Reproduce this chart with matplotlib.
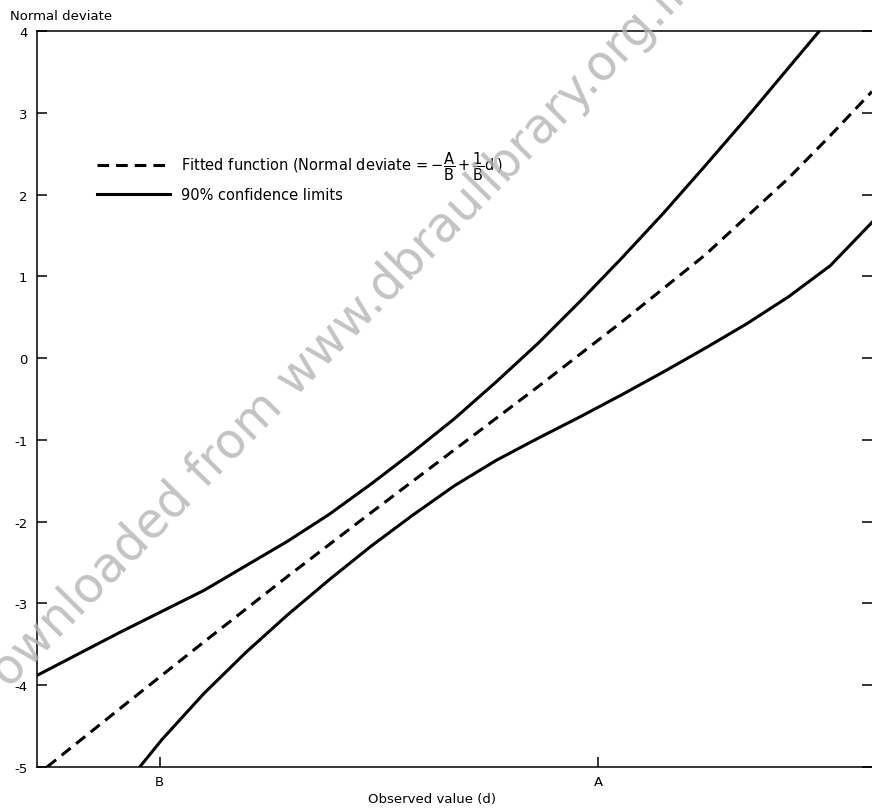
import matplotlib
matplotlib.use("Agg")
import matplotlib.pyplot as plt
import numpy as np

plt.rcParams['font.family'] = ['DejaVu Sans']
plt.rcParams['mathtext.fontset'] = 'dejavusans'
plt.rcParams['axes.unicode_minus'] = False

fit_d = [0.12, 1.0, 2.0, 3.0, 4.0, 5.0, 6.0, 7.0, 8.0, 9.0, 9.5, 10.0]
fit_y = [-5.0, -4.28, -3.47, -2.67, -1.89, -1.12, -0.35, 0.44, 1.26, 2.20, 2.72, 3.26]

upper_d = [0.0, 1.0, 2.0, 3.0, 3.5, 4.0, 4.5, 5.0, 5.5, 6.0, 6.5, 7.0, 7.5, 8.0, 8.5, 9.0, 9.37]
upper_y = [-3.88, -3.35, -2.84, -2.24, -1.91, -1.54, -1.15, -0.74, -0.29, 0.18, 0.69, 1.22,
           1.77, 2.35, 2.94, 3.55, 4.0]

lower_d = [1.23, 1.5, 2.0, 2.5, 3.0, 3.5, 4.0, 4.5, 5.0, 5.5, 6.0, 6.5, 7.0, 7.5,
           8.0, 8.5, 9.0, 9.5, 10.0]
lower_y = [-5.0, -4.66, -4.10, -3.60, -3.14, -2.71, -2.30, -1.92, -1.56, -1.25, -0.98,
           -0.72, -0.45, -0.17, 0.12, 0.42, 0.75, 1.13, 1.66]

x_ticks = [1.47, 6.72]
x_ticklabels = ['B', 'A']
y_ticks = [-5, -4, -3, -2, -1, 0, 1, 2, 3, 4]

fig = plt.figure(figsize=(8.72, 8.12), dpi=100)
ax = fig.add_axes([37/872, 1-768/812, 835/872, 736/812])

ax.plot(fit_d, fit_y, color='black', lw=2.2, dashes=(3.8, 2.3),
        label=r'Fitted function (Normal deviate$\,=-\dfrac{\mathrm{A}}{\mathrm{B}}'
              r'+\dfrac{1}{\mathrm{B}}\mathrm{d}\,$)')
ax.plot(upper_d, upper_y, color='black', lw=2.2, label='90% confidence limits')
ax.plot(lower_d, lower_y, color='black', lw=2.2)

ax.set_xlim(0, 10)
ax.set_ylim(-5, 4)
ax.set_xticks(x_ticks)
ax.set_xticklabels(x_ticklabels)
ax.set_yticks(y_ticks)
ax.tick_params(axis='both', direction='in', length=7, width=1.1, labelsize=9.5, pad=6)
ax.tick_params(axis='y', right=True, pad=7)
ax.spines['right'].set_visible(False)
for s in ['left', 'top', 'bottom']:
    ax.spines[s].set_linewidth(1.1)

ax.set_xlabel('Observed value (d)', fontsize=9.5)
ax.xaxis.set_label_coords((432-37)/835, -0.034)
fig.text(10/872, 1-17/812, 'Normal deviate', fontsize=9.5, va='center', ha='left')

ax.legend(loc='upper left', bbox_to_anchor=((97-37)/835, (768-150)/736),
          frameon=False, fontsize=10.5, handlelength=5.0, handletextpad=0.75,
          borderpad=0, borderaxespad=0, labelspacing=0.4)

# watermark of the scanned source
fig.text(-17/872, 1-716/812, 'Downloaded from www.dbraulibrary.org.in', fontsize=35,
         color='#b4b4b4', alpha=0.8, rotation=45.5, ha='left', va='baseline',
         zorder=0, rotation_mode='anchor')

fig.savefig('out.png', dpi=100)
